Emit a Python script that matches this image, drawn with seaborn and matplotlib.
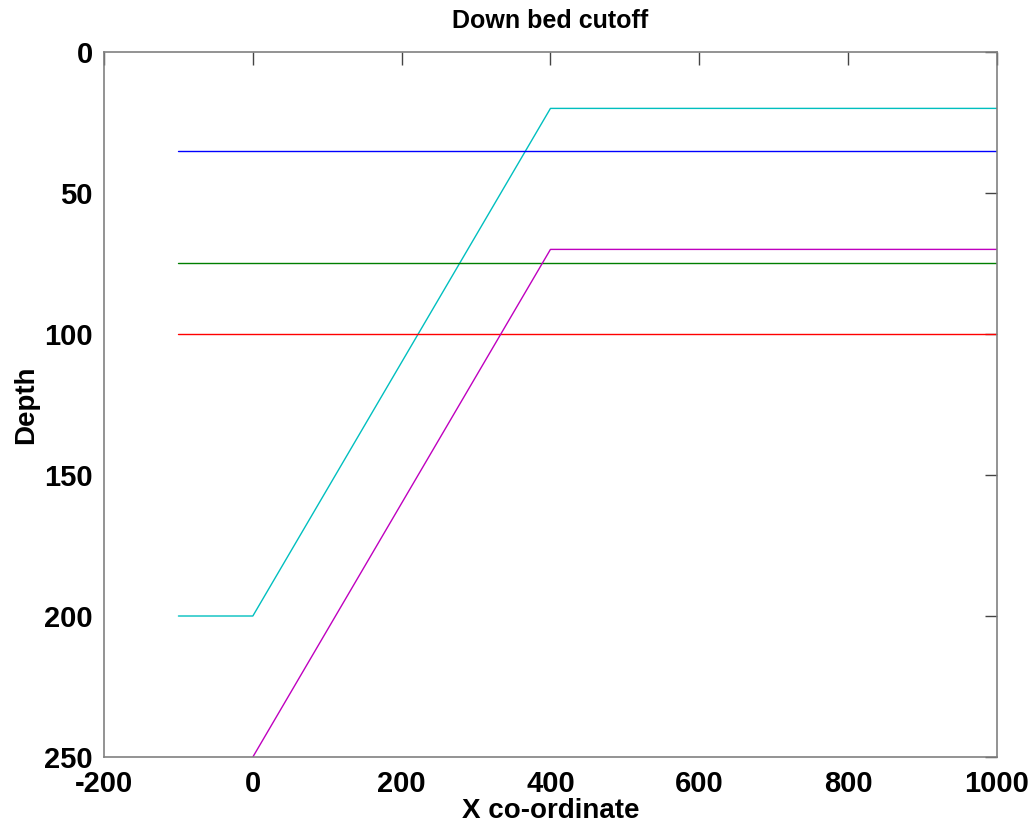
import matplotlib
matplotlib.use("Agg")
import matplotlib.pyplot as plt
import seaborn as sns
import pandas as pd

# Bed geometry: x positions and depths of each horizon
cyan_x = [-100, 0, 400, 1000]
cyan_depth = [200, 200, 20, 20]
blue_x = [-100, 1000]
blue_depth = [35, 35]
green_x = [-100, 1000]
green_depth = [75, 75]
red_x = [-100, 1000]
red_depth = [100, 100]
magenta_x = [0, 400, 1000]
magenta_depth = [250, 70, 70]

series = [
    ("cyan", cyan_x, cyan_depth, "#00bfbf"),
    ("blue", blue_x, blue_depth, "#0000ff"),
    ("green", green_x, green_depth, "#007f00"),
    ("red", red_x, red_depth, "#ff0000"),
    ("magenta", magenta_x, magenta_depth, "#bf00bf"),
]

sns.set_style("white")
plt.rcParams["font.family"] = ["Liberation Sans", "DejaVu Sans"]
plt.rcParams["axes.unicode_minus"] = False
plt.rcParams["text.color"] = "black"
plt.rcParams["axes.labelcolor"] = "black"
plt.rcParams["xtick.color"] = "black"
plt.rcParams["ytick.color"] = "black"

fig = plt.figure(figsize=(10.31, 8.24), dpi=100)
ax = fig.add_axes([0.1009, 0.0813, 0.866, 0.8556])

for name, xs, ds, col in series:
    df = pd.DataFrame({"x": xs, "depth": ds})
    sns.lineplot(data=df, x="x", y="depth", ax=ax, color=col, linewidth=1.0,
                 sort=False, estimator=None)

ax.set_xlim(-200, 1000)
ax.set_ylim(250, 0)
ax.set_xticks(range(-200, 1001, 200))
ax.set_yticks(range(0, 251, 50))

for s in ax.spines.values():
    s.set_color("#808080")
    s.set_linewidth(1.2)
    s.set_visible(True)

ax.tick_params(axis="both", direction="in", length=9, width=1, color="#444444",
               labelcolor="black", top=True, right=True, labelsize=21)
ax.tick_params(axis="x", pad=9)
ax.tick_params(axis="y", pad=8)
for lbl in ax.get_xticklabels() + ax.get_yticklabels():
    lbl.set_fontweight("bold")

ax.set_title("Down bed cutoff", fontsize=18, fontweight="bold", pad=17,
             color="black")
ax.set_xlabel("X co-ordinate", fontsize=20, fontweight="bold", labelpad=0,
              color="black")
ax.set_ylabel("Depth", fontsize=20, fontweight="bold", labelpad=4,
              color="black")

fig.savefig("out.png", dpi=100, facecolor="white")
